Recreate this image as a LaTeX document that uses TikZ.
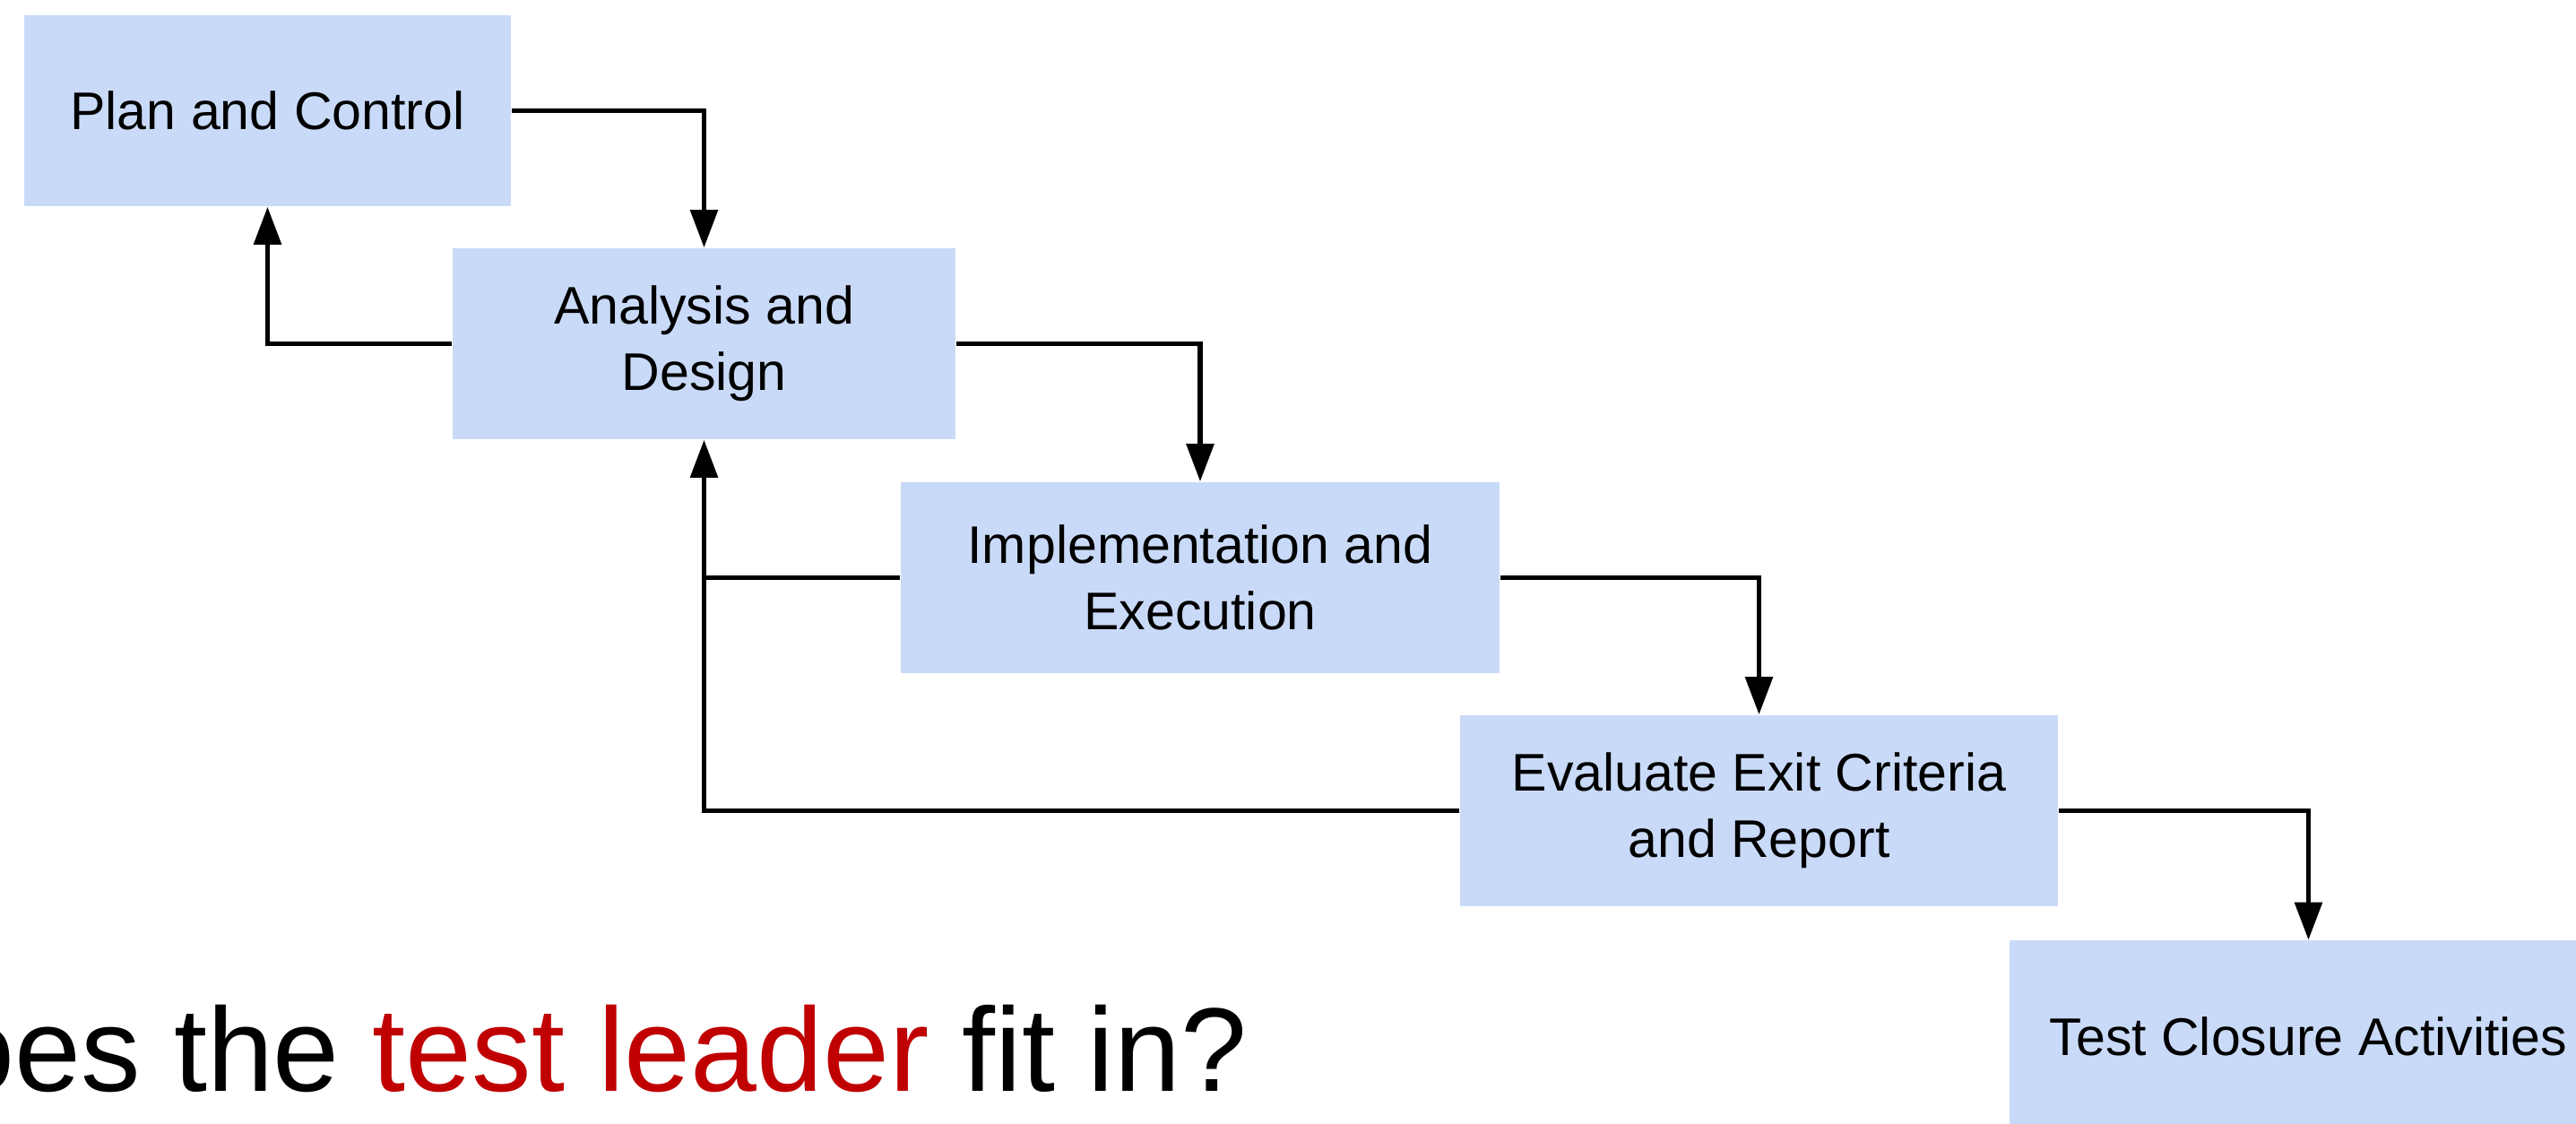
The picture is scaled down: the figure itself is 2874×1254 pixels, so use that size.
\documentclass[tikz,border=0pt]{standalone}
\usepackage{fontspec}
\setmainfont{Liberation Sans}
\usetikzlibrary{arrows.meta}
\definecolor{boxblue}{HTML}{C9DAF8}
\definecolor{leadred}{HTML}{C00000}
\begin{document}
\begin{tikzpicture}[x=0.01cm, y=-0.01cm,
  phase/.style={fill=boxblue, draw=none, inner sep=0pt, minimum height=2.13cm,
    align=center, font=\fontsize{16.8}{21}\selectfont},
  flow/.style={line width=1.6pt, -{Triangle[length=4.2mm, width=3mm]}},
  link/.style={line width=1.6pt}]
  % page frame
  \fill[white] (0,0) rectangle (2874,1254);
  \useasboundingbox (0,0) rectangle (2874,1254);

  % process phases
  \node[phase, minimum width=5.43cm] (plan) at (298.5,123.5) {Plan and Control};
  \node[phase, minimum width=5.61cm] (ana)  at (785.5,383.5) {Analysis and\\Design};
  \node[phase, minimum width=6.68cm] (impl) at (1339,644.5) {Implementation and\\Execution};
  \node[phase, minimum width=6.67cm] (eval) at (1962.5,904.5) {Evaluate Exit Criteria\\and Report};
  \node[phase, minimum width=6.67cm] (close) at (2575.5,1156) {Test Closure Activities};

  % forward flow
  \draw[flow] (plan.east) -| (ana.north);
  \draw[flow] (ana.east) -| (impl.north);
  \draw[flow] (impl.east) -| (eval.north);
  \draw[flow] (eval.east) -| (close.north);

  % feedback loops
  \draw[flow] (ana.west) -| (plan.south);
  \draw[flow] (eval.west) -| (ana.south);
  \draw[link] (impl.west) -- (impl.west -| ana.south);

  % question
  \node[anchor=base east, inner sep=0pt, font=\fontsize{37.8}{45}\selectfont] (q)
    at (1392,1217) {does the \textcolor{leadred}{test leader} fit in?};
\end{tikzpicture}
\end{document}
